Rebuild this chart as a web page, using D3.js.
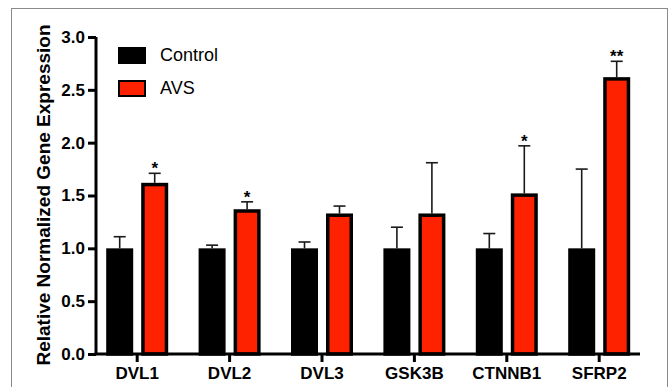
<!DOCTYPE html>
<html>
<head>
<meta charset="utf-8">
<script src="https://d3js.org/d3.v7.min.js"></script>
<style>
  body { margin: 0; background: #fff; font-family: "Liberation Sans", Arial, sans-serif; }
</style>
</head>
<body>
<svg id="chart" width="670" height="387"></svg>
<script>
  // data
  const genes = ["DVL1", "DVL2", "DVL3", "GSK3B", "CTNNB1", "SFRP2"];
  const series = ["Control", "AVS"];
  const controlMean = [1.0, 1.0, 1.0, 1.0, 1.0, 1.0];
  const controlErr  = [0.11, 0.03, 0.06, 0.20, 0.14, 0.75];
  const avsMean     = [1.62, 1.37, 1.33, 1.33, 1.52, 2.62];
  const avsErr      = [0.09, 0.07, 0.07, 0.48, 0.45, 0.15];
  const stars       = ["*", "*", "", "", "*", "**"];
  const yTicks = [0, 0.5, 1.0, 1.5, 2.0, 2.5, 3.0];

  const colors = { Control: "#000000", AVS: "#ff2200" };

  const svg = d3.select("#chart");

  // outer frame
  svg.append("rect")
    .attr("x", 11.5).attr("y", 8.5)
    .attr("width", 656).attr("height", 400)
    .attr("fill", "none").attr("stroke", "#8a8a8a").attr("stroke-width", 1);

  const y = d3.scaleLinear().domain([0, 3]).range([354, 37]);
  const x = d3.scaleBand().domain(genes).range([91, 645.4]);
  const xSub = d3.scaleBand().domain(series).range([-31, 31]).paddingInner(8 / 35);

  const rows = genes.map((g, i) => ({
    gene: g,
    vals: [
      { s: "Control", mean: controlMean[i], err: controlErr[i] },
      { s: "AVS", mean: avsMean[i], err: avsErr[i] }
    ],
    star: stars[i]
  }));

  const groups = svg.append("g").selectAll("g")
    .data(rows).join("g")
    .attr("transform", d => `translate(${x(d.gene) + x.bandwidth() / 2},0)`);

  const bw = xSub.bandwidth();

  // error bars (drawn first, bars cover the lower half)
  groups.selectAll("g.err").data(d => d.vals).join("g")
    .attr("class", "err")
    .each(function (d) {
      const cx = xSub(d.s) + bw / 2;
      const g = d3.select(this);
      g.append("line")
        .attr("x1", cx).attr("x2", cx)
        .attr("y1", y(d.mean)).attr("y2", y(d.mean + d.err))
        .attr("stroke", "#1a1a1a").attr("stroke-width", 1.6);
      g.append("line")
        .attr("x1", cx - 6).attr("x2", cx + 6)
        .attr("y1", y(d.mean + d.err)).attr("y2", y(d.mean + d.err))
        .attr("stroke", "#1a1a1a").attr("stroke-width", 1.6);
    });

  groups.selectAll("rect").data(d => d.vals).join("rect")
    .attr("x", d => xSub(d.s) + 1.75)
    .attr("width", bw - 3.5)
    .attr("y", d => y(d.mean) + 1.75)
    .attr("height", d => y(0) - y(d.mean) - 1.75)
    .attr("fill", d => colors[d.s])
    .attr("stroke", "#000").attr("stroke-width", 3.5);

  // significance stars
  groups.append("text")
    .attr("x", xSub("AVS") + bw / 2)
    .attr("y", (d, i) => y(avsMean[i] + avsErr[i]) + 1)
    .attr("text-anchor", "middle")
    .attr("font-size", 17)
    .attr("font-weight", "bold")
    .text(d => d.star);

  // axes
  const yAxis = svg.append("g")
    .attr("transform", "translate(96,0)")
    .call(d3.axisLeft(y).tickValues(yTicks).tickFormat(d3.format(".1f")).tickSize(8).tickPadding(3));
  yAxis.select(".domain").attr("d", `M0,${y(3)}V${y(0)}`).attr("stroke-width", 3);
  yAxis.selectAll(".tick line").attr("stroke-width", 3);
  yAxis.selectAll("text")
    .attr("font-size", 17).attr("font-weight", "bold")
    .attr("font-family", "Liberation Sans, Arial, sans-serif").attr("fill", "#000");

  const xAxis = svg.append("g")
    .attr("transform", `translate(0,${y(0)})`)
    .call(d3.axisBottom(x).tickSize(8).tickPadding(5));
  xAxis.select(".domain").attr("d", "M94.5,0H640").attr("stroke-width", 3);
  xAxis.selectAll(".tick line").attr("stroke-width", 3);
  xAxis.selectAll("text")
    .attr("font-size", 17).attr("font-weight", "bold")
    .attr("font-family", "Liberation Sans, Arial, sans-serif").attr("fill", "#000");

  // y title
  svg.append("text")
    .attr("transform", "translate(50,195) rotate(-90)")
    .attr("text-anchor", "middle")
    .attr("font-size", 19).attr("font-weight", "bold")
    .text("Relative Normalized Gene Expression");

  // legend
  const legend = svg.append("g").selectAll("g")
    .data(series).join("g")
    .attr("transform", (d, i) => `translate(118,${47 + i * 33})`);
  legend.append("rect")
    .attr("x", 1).attr("y", 1)
    .attr("width", 26).attr("height", 15)
    .attr("fill", d => colors[d])
    .attr("stroke", "#000").attr("stroke-width", 2);
  legend.append("text")
    .attr("x", 42).attr("y", 14)
    .attr("font-size", 18)
    .text(d => d);
</script>
</body>
</html>
